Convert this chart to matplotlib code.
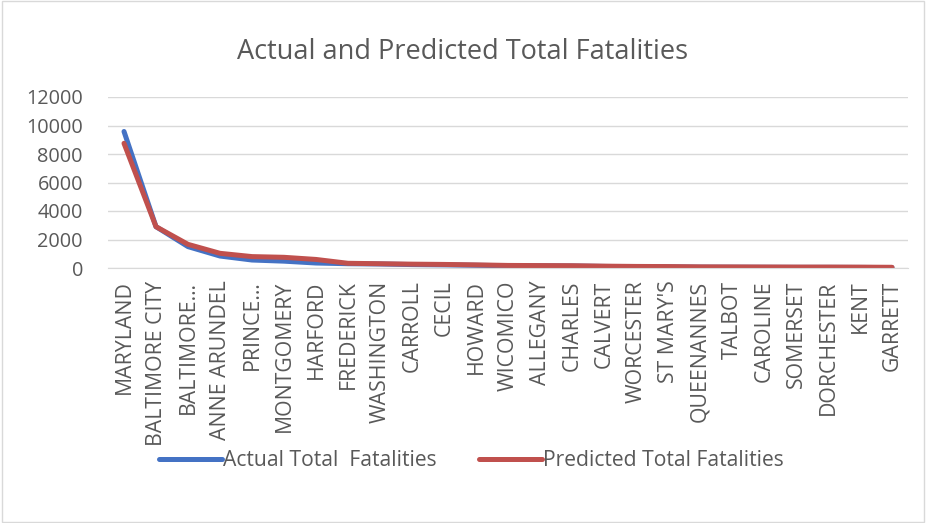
import matplotlib.pyplot as plt

counties = ['MARYLAND', 'BALTIMORE CITY', 'BALTIMORE…', 'ANNE ARUNDEL', 'PRINCE…',
            'MONTGOMERY', 'HARFORD', 'FREDERICK', 'WASHINGTON', 'CARROLL', 'CECIL',
            'HOWARD', 'WICOMICO', 'ALLEGANY', 'CHARLES', 'CALVERT', 'WORCESTER',
            "ST MARY'S", 'QUEENANNES', 'TALBOT', 'CAROLINE', 'SOMERSET',
            'DORCHESTER', 'KENT', 'GARRETT']
actual = [9580, 2900, 1500, 840, 560, 480, 350, 300, 280, 240, 220, 190, 160, 150,
          140, 110, 90, 80, 60, 55, 50, 45, 45, 40, 30]
predicted = [8750, 2900, 1660, 1030, 800, 750, 600, 330, 300, 270, 250, 220, 180, 170,
             160, 130, 110, 100, 80, 75, 70, 65, 65, 60, 50]

plt.rcParams['font.family'] = ['Open Sans', 'DejaVu Sans']
grey = '#595959'

fig = plt.figure(figsize=(9.26, 5.23), dpi=100)
ax = fig.add_axes([108/926, 1 - 268/523, 800/926, 171/523])

x = list(range(len(counties)))
ax.plot(x, actual, color='#4472C4', lw=3.6, solid_capstyle='round', label='Actual Total  Fatalities')
ax.plot(x, predicted, color='#C0504D', lw=3.6, solid_capstyle='round', label='Predicted Total Fatalities')

ax.set_xlim(-0.5, len(counties) - 0.5)
ax.set_ylim(0, 12000)
ax.set_yticks(range(0, 12001, 2000))
ax.grid(axis='y', color='#d9d9d9', lw=1)
ax.set_axisbelow(True)
for s in ['top', 'right', 'left']:
    ax.spines[s].set_visible(False)
ax.spines['bottom'].set_color('#d9d9d9')
ax.set_xticks(x)
ax.set_xticklabels(counties, rotation=90, fontsize=15.3, color=grey)
ax.tick_params(axis='y', length=0, labelsize=14.3, labelcolor=grey, pad=18)
ax.tick_params(axis='x', length=0, pad=9)

fig.suptitle('Actual and Predicted Total Fatalities', y=1 - 52/523, va='center',
             fontsize=19.5, color=grey)
fig.legend(loc='center', bbox_to_anchor=(0.509, 1 - 461/523), ncol=2, frameon=False,
           fontsize=15.2, labelcolor=grey, handlelength=3, handletextpad=0.05,
           columnspacing=2)

fig.patches.append(plt.Rectangle((0.002, 0.002), 0.996, 0.996, transform=fig.transFigure,
                                 fill=False, edgecolor='#d9d9d9', lw=1))
fig.savefig('out.png', dpi=100)
